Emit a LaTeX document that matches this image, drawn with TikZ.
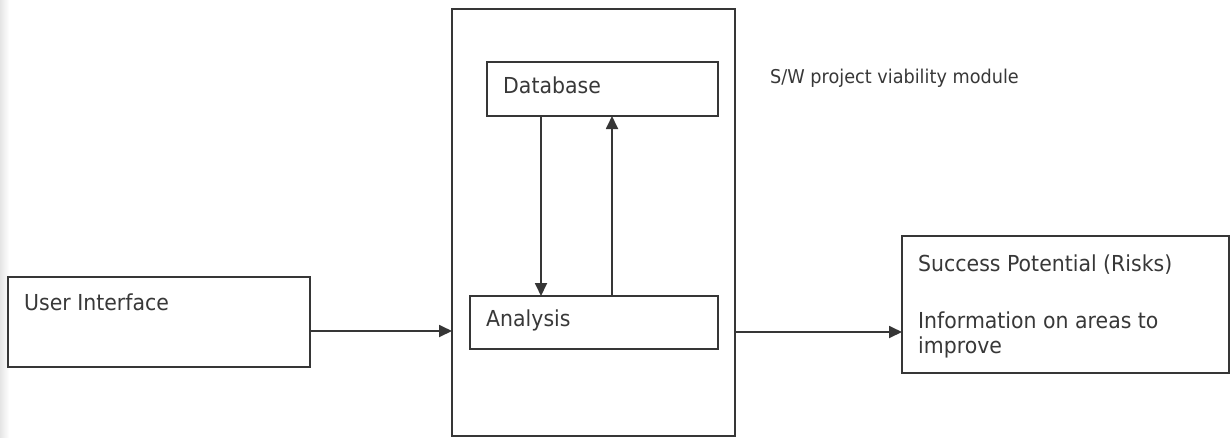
\documentclass[tikz,border=0pt]{standalone}
\usepackage{fontspec}
\setmainfont{DejaVu Sans}[FakeStretch=0.93]
\usetikzlibrary{arrows.meta}
\definecolor{ink}{HTML}{363636}
\definecolor{txt}{HTML}{383838}
\tikzset{
  box/.style={draw=ink, line width=1.8pt, rectangle, inner sep=0pt, outer sep=0pt, anchor=north west},
  lbl/.style={text=txt, font=\fontsize{22}{25}\selectfont, inner sep=0pt, anchor=base west},
  small/.style={text=txt, font=\fontsize{19}{21}\selectfont, inner sep=0pt, anchor=base west},
  arr/.style={draw=ink, line width=1.8pt, -{Triangle[length=13pt,width=12pt]}}
}
\begin{document}
\begin{tikzpicture}[x=1pt,y=-1pt]
  \useasboundingbox (0,0) rectangle (1231,437);
  \fill[white] (0,0) rectangle (1231,437);
  \shade[left color=black!10, right color=white] (0,0) rectangle (9,437);

  % module frame and its inner blocks
  \node[box, minimum width=283pt, minimum height=427pt] (mod) at (452,9) {};
  \node[box, minimum width=231pt, minimum height=54pt] (db) at (487,62) {};
  \node[box, minimum width=248pt, minimum height=53pt] (an) at (470,296) {};

  % input and output blocks
  \node[box, minimum width=302pt, minimum height=90pt] (ui) at (8,277) {};
  \node[box, minimum width=327pt, minimum height=137pt] (sp) at (902,236) {};

  % labels
  \node[lbl] (tdb) at (503,93) {Database};
  \node[lbl] (tan) at (486,326) {Analysis};
  \node[lbl] (tui) at (24,310) {User Interface};
  \node[small] (tmod) at (770,83) {S/W project viability module};
  \node[lbl] (tsp1) at (918,271) {Success Potential (Risks)};
  \node[lbl] (tsp2) at (918,328) {Information on areas to};
  \node[lbl] (tsp3) at (918,353) {improve};

  % data flow between database and analysis
  \draw[arr] ([xshift=54pt]db.south west) -- ([xshift=54pt]db.south west |- an.north);
  \draw[arr] ([xshift=125pt]db.south west |- an.north) -- ([xshift=125pt]db.south west);

  % flow through the module
  \draw[arr] ([yshift=-9pt]ui.east) -- ([yshift=-9pt]ui.east -| mod.west);
  \draw[arr] ([yshift=-27.5pt]sp.west -| mod.east) -- ([yshift=-27.5pt]sp.west);
\end{tikzpicture}
\end{document}
